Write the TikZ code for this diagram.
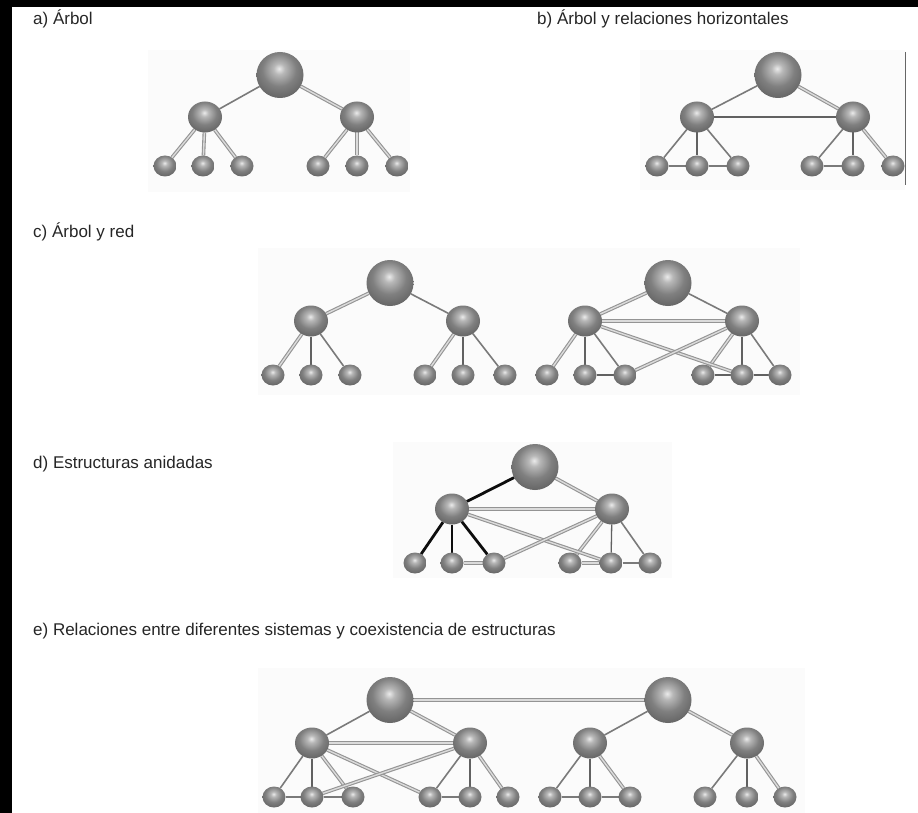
\documentclass[tikz,border=0pt]{standalone}
\usepackage{fontspec}
\setmainfont{Liberation Sans}
\usetikzlibrary{shapes.geometric}
\pgfdeclarelayer{bg}
\pgfdeclarelayer{edges}
\pgfsetlayers{bg,edges,main}
\pgfdeclareradialshading{sph}{\pgfpoint{-1bp}{7bp}}{color(0bp)=(black!8); color(6bp)=(black!28); color(18bp)=(black!50); color(32bp)=(black!62); color(42bp)=(black!72); color(50bp)=(black!60); color(100bp)=(black!60)}
\begin{document}
\begin{tikzpicture}[x=1pt,y=-1pt,
  ball/.style={ellipse, inner sep=0pt, outer sep=0pt, shading=sph},
  topn/.style={ball, minimum width=47pt, minimum height=46pt},
  midn/.style={ball, minimum width=34pt, minimum height=31pt},
  leafn/.style={ball, minimum width=23pt, minimum height=21pt},
  ln/.style={draw=black!52, line width=1.6pt},
  dl/.style={draw=black!42, double=black!14, double distance=1.4pt, line width=1.1pt},
  thin/.style={draw=black!62, line width=1.3pt},
  bk/.style={draw=black!95, line width=2.8pt},
  lbl/.style={anchor=west, inner sep=0pt, text=black!85, font=\fontsize{17}{19}\selectfont},
  panel/.style={fill=black!1.5, draw=none}]
\useasboundingbox (0,0) rectangle (918,813);
\begin{pgfonlayer}{bg}
\fill[white] (0,0) rectangle (918,813);
\fill[black] (0,0) rectangle (12,813);
\fill[black] (0,0) rectangle (918,7);
\fill[panel] (148,50) rectangle (410,192);
\fill[panel] (640,50) rectangle (905,190);
\fill[panel] (258,248) rectangle (800,395);
\fill[panel] (393,442) rectangle (672,578);
\fill[panel] (258,668) rectangle (805,813);
\end{pgfonlayer}

% labels
\node[lbl] (la) at (33,19) {a) Árbol};
\node[lbl] (lb) at (537,19) {b) Árbol y relaciones horizontales};
\node[lbl] (lc) at (33,232) {c) Árbol y red};
\node[lbl] (ld) at (33,464) {d) Estructuras anidadas};
\node[lbl] (le) at (33,631) {e) Relaciones entre diferentes sistemas y coexistencia de estructuras};

\draw[black!60, line width=1pt] (905,52) -- (905,185);

% ---------- a) ----------
\node[topn] (aT) at (280,75) {};
\node[midn] (aL) at (205,117) {};
\node[midn] (aR) at (357,117) {};
\foreach \n/\x in {1/165,2/203,3/242,4/318,5/357,6/397}
  \node[leafn] (a\n) at (\x,166) {};
\begin{pgfonlayer}{edges}
\draw[ln] (aT) -- (aL);
\draw[dl] (aT) -- (aR);
\draw[dl] (aL) -- (a1); \draw[dl] (aL) -- (a2); \draw[dl] (aL) -- (a3);
\draw[dl] (aR) -- (a4); \draw[dl] (aR) -- (a5); \draw[dl] (aR) -- (a6);
\end{pgfonlayer}

% ---------- b) ----------
\node[topn] (bT) at (778,75) {};
\node[midn] (bL) at (697,117) {};
\node[midn] (bR) at (853,117) {};
\foreach \n/\x in {1/657,2/697,3/738,4/812,5/853,6/893}
  \node[leafn] (b\n) at (\x,166) {};
\begin{pgfonlayer}{edges}
\draw[ln] (bT) -- (bL);
\draw[dl] (bT) -- (bR);
\draw[thin] (bL) -- (bR);
\draw[ln] (bL) -- (b1); \draw[thin] (bL) -- (b2); \draw[ln] (bL) -- (b3);
\draw[ln] (bR) -- (b4); \draw[thin] (bR) -- (b5); \draw[dl] (bR) -- (b6);
\draw[ln] (b1) -- (b2); \draw[ln] (b2) -- (b3); \draw[ln] (b4) -- (b5);
\end{pgfonlayer}

% ---------- c) left ----------
\node[topn] (cT) at (390,283) {};
\node[midn] (cL) at (311,321) {};
\node[midn] (cR) at (463,321) {};
\foreach \n/\x in {1/273,2/311,3/350,4/425,5/463,6/505}
  \node[leafn] (c\n) at (\x,375) {};
\begin{pgfonlayer}{edges}
\draw[dl] (cT) -- (cL);
\draw[ln] (cT) -- (cR);
\draw[dl] (cL) -- (c1); \draw[thin] (cL) -- (c2); \draw[ln] (cL) -- (c3);
\draw[dl] (cR) -- (c4); \draw[thin] (cR) -- (c5); \draw[ln] (cR) -- (c6);
\end{pgfonlayer}

% ---------- c) right ----------
\node[topn] (kT) at (668,283) {};
\node[midn] (kL) at (585,321) {};
\node[midn] (kR) at (742,321) {};
\foreach \n/\x in {1/547,2/585,3/625,4/703,5/742,6/780}
  \node[leafn] (k\n) at (\x,375) {};
\begin{pgfonlayer}{edges}
\draw[dl] (kT) -- (kL);
\draw[ln] (kT) -- (kR);
\draw[dl] (kL) -- (kR);
\draw[dl] (kL) -- (k1); \draw[thin] (kL) -- (k2); \draw[ln] (kL) -- (k3);
\draw[dl] (kR) -- (k4); \draw[thin] (kR) -- (k5); \draw[ln] (kR) -- (k6);
\draw[dl] (kL) -- (k5);
\draw[dl] (kR) -- (k3);
\draw[thin] (k2) -- (k3);
\draw[thin] (k4) -- (k5); \draw[thin] (k5) -- (k6);
\end{pgfonlayer}

% ---------- d) ----------
\node[topn] (dT) at (535,467) {};
\node[midn] (dL) at (452,509) {};
\node[midn] (dR) at (612,509) {};
\foreach \n/\x in {1/415,2/452,3/494,4/570,5/611,6/650}
  \node[leafn] (d\n) at (\x,563) {};
\begin{pgfonlayer}{edges}
\draw[bk] (dT) -- (dL);
\draw[bk] (dL) -- (d1); \draw[bk] (dL) -- (d2); \draw[bk] (dL) -- (d3);
\draw[dl] (dT) -- (dR);
\draw[dl] (dL) -- (dR);
\draw[dl] (dR) -- (d4); \draw[thin] (dR) -- (d5); \draw[ln] (dR) -- (d6);
\draw[dl] (dL) -- (d5);
\draw[dl] (dR) -- (d3);
\draw[dl] (d2) -- (d3);
\draw[dl] (d4) -- (d5); \draw[ln] (d5) -- (d6);
\end{pgfonlayer}

% ---------- e) ----------
\node[topn] (eT) at (390,700) {};
\node[midn] (eL) at (312,743) {};
\node[midn] (eR) at (470,743) {};
\foreach \n/\x in {1/274,2/312,3/353,4/430,5/470,6/508}
  \node[leafn] (e\n) at (\x,797) {};
\node[topn] (fT) at (668,700) {};
\node[midn] (fL) at (590,743) {};
\node[midn] (fR) at (747,743) {};
\foreach \n/\x in {1/550,2/590,3/630,4/705,5/747,6/785}
  \node[leafn] (f\n) at (\x,797) {};
\begin{pgfonlayer}{edges}
\draw[dl] (eT) -- (fT);
\draw[ln] (eT) -- (eL);
\draw[dl] (eT) -- (eR);
\draw[dl] (eL) -- (eR);
\draw[ln] (eL) -- (e1); \draw[thin] (eL) -- (e2); \draw[dl] (eL) -- (e3);
\draw[ln] (eR) -- (e4); \draw[thin] (eR) -- (e5); \draw[dl] (eR) -- (e6);
\draw[dl] (eL) -- (e4);
\draw[dl] (eR) -- (e2);
\draw[ln] (e1) -- (e2); \draw[ln] (e2) -- (e3); \draw[ln] (e4) -- (e5);
\draw[ln] (fT) -- (fL);
\draw[dl] (fT) -- (fR);
\draw[ln] (fL) -- (f1); \draw[thin] (fL) -- (f2); \draw[dl] (fL) -- (f3);
\draw[ln] (fR) -- (f4); \draw[thin] (fR) -- (f5); \draw[dl] (fR) -- (f6);
\draw[ln] (f1) -- (f2); \draw[ln] (f2) -- (f3);
\end{pgfonlayer}
\end{tikzpicture}
\end{document}
